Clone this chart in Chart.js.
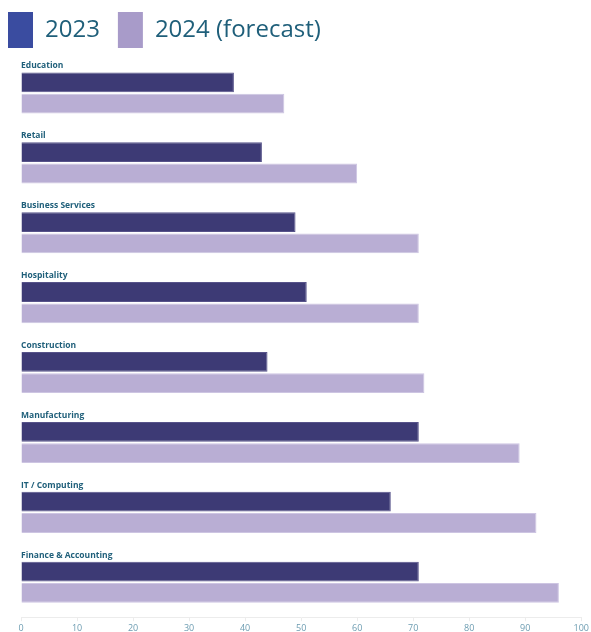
<!DOCTYPE html>
<html>
<head>
<meta charset="utf-8">
<script src="https://cdn.jsdelivr.net/npm/chart.js@4/dist/chart.umd.min.js"></script>
<style>
  html, body { margin: 0; padding: 0; background: #fff; }
  #wrap { width: 591px; height: 632px; }
</style>
</head>
<body>
<div id="wrap"><canvas id="sectors" width="591" height="632"></canvas></div>
<script>
var categories = ['Education', 'Retail', 'Business Services', 'Hospitality',
                  'Construction', 'Manufacturing', 'IT / Computing', 'Finance & Accounting'];
var values2023 = [38, 43, 49, 51, 44, 71, 66, 71];
var values2024 = [47, 60, 71, 71, 72, 89, 92, 96];
var seriesNames = ['2023', '2024 (forecast)'];
var xTicks = [0, 10, 20, 30, 40, 50, 60, 70, 80, 90, 100];

var barColors    = ['#3d3a75', '#b9aed4'];
var legendColors = ['#3a4ca0', '#a89bc9'];
var textColor    = '#1f5f7a';

// category names sit just above each pair of bars
var categoryLabels = {
  id: 'categoryLabels',
  afterDatasetsDraw: function(chart) {
    var ctx  = chart.ctx;
    var meta = chart.getDatasetMeta(0);
    ctx.save();
    ctx.font = 'bold 8.5px "Open Sans"';
    ctx.fillStyle = textColor;
    ctx.textAlign = 'left';
    ctx.textBaseline = 'alphabetic';
    for (var i = 0; i < categories.length; i++) {
      var bar = meta.data[i];
      var top = bar.y - bar.height / 2;
      ctx.fillText(categories[i], chart.chartArea.left, top - 4);
    }
    ctx.restore();
  }
};

new Chart(document.getElementById('sectors'), {
  type: 'bar',
  data: {
    labels: categories,
    datasets: [
      { label: seriesNames[0], data: values2023, backgroundColor: barColors[0],
        borderColor: '#57538a', borderWidth: 1 },
      { label: seriesNames[1], data: values2024, backgroundColor: barColors[1],
        borderColor: '#cdc5e2', borderWidth: 1 }
    ]
  },
  options: {
    indexAxis: 'y',
    responsive: false,
    animation: false,
    layout: { padding: { top: -6, left: -10, right: 0, bottom: -4 } },
    datasets: {
      bar: { categoryPercentage: 0.61, barPercentage: 0.93 }
    },
    plugins: {
      tooltip: { enabled: false },
      legend: {
        position: 'top',
        align: 'start',
        labels: {
          boxWidth: 25,
          boxHeight: 36,
          padding: 18,
          color: textColor,
          font: { family: '"Open Sans"', size: 24 },
          generateLabels: function(chart) {
            return chart.data.datasets.map(function(ds, i) {
              return {
                text: ds.label,
                fillStyle: legendColors[i],
                strokeStyle: legendColors[i],
                lineWidth: 0,
                fontColor: textColor,
                hidden: false,
                datasetIndex: i
              };
            });
          }
        }
      }
    },
    scales: {
      x: {
        min: 0,
        max: 100,
        afterBuildTicks: function(scale) {
          scale.ticks = xTicks.map(function(v) { return { value: v }; });
        },
        grid: { drawOnChartArea: false, drawTicks: true, tickLength: 4, color: '#ececec' },
        border: { color: '#ececec' },
        ticks: { color: '#6c9cb1', padding: 2, font: { family: '"Open Sans"', size: 9 } }
      },
      y: {
        afterFit: function(scale) { scale.width = 31; },
        grid: { display: false },
        border: { display: false },
        ticks: { display: false }
      }
    }
  },
  plugins: [categoryLabels]
});
</script>
</body>
</html>
